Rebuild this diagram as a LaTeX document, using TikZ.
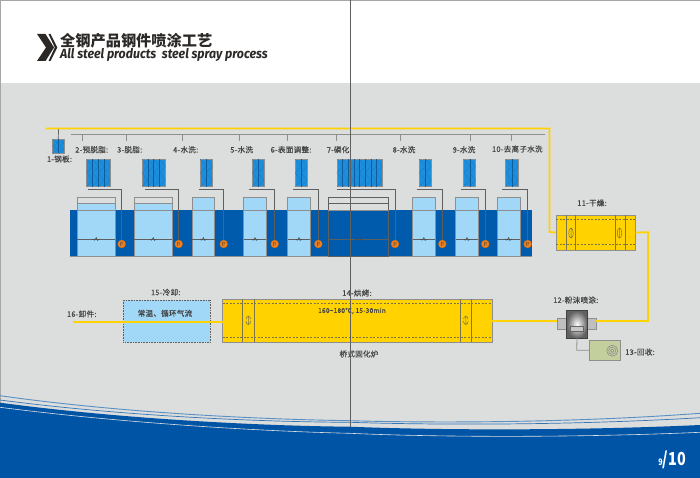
\documentclass[tikz,border=0pt]{standalone}
\usepackage{fontspec}
\setmainfont{Noto Sans CJK SC}
\newfontfamily\entitle{Fira Sans}
\newfontfamily\lblfont{Noto Sans CJK SC}[FakeBold=0.25,LetterSpace=3]
\usetikzlibrary{calc}
\definecolor{pagegray}{HTML}{DCDDDD}
\definecolor{ink}{HTML}{444444}
\definecolor{deepblue}{HTML}{0054A6}
\definecolor{bandblue}{HTML}{005BAC}
\definecolor{tankblue}{HTML}{A2D8F7}
\definecolor{sprayblue}{HTML}{1C8EDB}
\definecolor{sprayline}{HTML}{0E5C9C}
\definecolor{steelgray}{HTML}{8E8E8E}
\definecolor{darkline}{HTML}{5F5F5F}
\definecolor{ovenyellow}{HTML}{FFD200}
\definecolor{ovenline}{HTML}{7D7447}
\definecolor{pumporange}{HTML}{EE7F1A}
\definecolor{recovgreen}{HTML}{C3D09E}
\tikzset{
  lbl/.style={font=\lblfont\fontsize{7.6}{9}\selectfont, text=ink, inner sep=0pt},
  flat/.style={rectangle, inner sep=0pt, outer sep=0pt},
  yellowline/.style={draw=ovenyellow, line width=1.8pt},
  grayrail/.style={draw=steelgray, line width=1.3pt},
  railtick/.style={draw=steelgray, line width=.7pt},
  pipe/.style={draw=darkline, line width=.7pt},
  pumpdot/.style={circle, fill=pumporange, draw=pumporange!80!black, line width=.2pt, minimum size=8pt, inner sep=0pt,
     font=\fontsize{5.5}{6}\selectfont, text=ink},
  tankbox/.style={flat, draw=steelgray, line width=.9pt, fill=tankblue},
  ovenbox/.style={flat, draw=steelgray, line width=.7pt, fill=ovenyellow},
  ovendash/.style={draw=ovenline, line width=.6pt, dash pattern=on 2.2pt off 1.3pt},
  ovenbar/.style={draw=ovenline, line width=.7pt},
}
% name, x1, y1, x2, y2, style
\newcommand{\pxbox}[6]{%
  \pgfmathsetmacro{\bw}{#4-#2}\pgfmathsetmacro{\bh}{#5-#3}%
  \node[#6, minimum width=\bw pt, minimum height=\bh pt] (#1) at ({(#2+#4)/2},{(#3+#5)/2}) {};}
% name, x1, x2, y1, y2, columns
\newcommand{\spraybox}[6]{%
  \pxbox{#1}{#2}{#4}{#3}{#5}{flat, fill=sprayblue, draw=steelgray, line width=.6pt}
  \pgfmathsetmacro{\cw}{(#3-#2)/#6}%
  \foreach \k in {1,...,#6}{%
    \pgfmathsetmacro{\cx}{#2+(\k-1)*\cw}%
    \pgfmathsetmacro{\cxb}{#2+\k*\cw}%
    \draw[sprayline!70!sprayblue, line width=.45pt, densely dotted]
      (\cx,#4) -- (\cxb,{#4+(#5-#4)/4}) -- (\cx,{#4+(#5-#4)/2}) -- (\cxb,{#4+3*(#5-#4)/4}) -- (\cx,#5);
    \pgfmathparse{\k<#6 ? 1 : 0}%
    \ifdim\pgfmathresult pt>0.5pt \draw[sprayline, line width=.4pt] (\cxb,#4) -- (\cxb,#5);\fi
  }}
% squiggle
\newcommand{\squig}[2]{\draw[black!70, line width=.55pt] ({#1-3.5},#2) -- ({#1-1.8},#2+1.2) -- ({#1},#2-1.4) -- ({#1+1.2},#2+1.4) -- ({#1+3.2},#2);}
\begin{document}
\begin{tikzpicture}[x=1pt,y=-1pt]
\useasboundingbox (0,0) rectangle (700,478);
% page
\fill[white] (0,0) rectangle (700,83);
\fill[pagegray] (0,83) rectangle (700,478);
\draw[gray!70, line width=.8pt] (0,478) -- (0,0) -- (700,0);
% bottom swoosh
\fill[deepblue] (0,402.7) .. controls (130,420) and (270,426) .. (350,426.7)
   .. controls (430,430) and (570,431) .. (700,425) -- (700,478) -- (0,478) -- cycle;
\draw[pagegray!90!white, line width=.6pt] (0,407.3) .. controls (130,424) and (270,431.5) .. (350,433.3)
   .. controls (430,437) and (570,438) .. (700,432.3);
\draw[deepblue!65!white, line width=.9pt] (0,395.7) .. controls (130,414) and (270,419.5) .. (350,420.7)
   .. controls (430,423) and (570,423) .. (700,413.3);
\draw[deepblue!80!white, line width=.7pt] (0,400) .. controls (130,417) and (270,422) .. (350,422.3)
   .. controls (430,425) and (570,425.5) .. (700,417.7);
% title
\definecolor{chev}{HTML}{2B2826}
\fill[chev] (37,34) -- (45.5,34) -- (54,47.5) -- (45.5,61) -- (37,61) -- (46,47.5) -- cycle;
\fill[chev] (48.5,34) -- (50.5,34) -- (57.3,47.5) -- (50.5,61) -- (48.5,61) -- (54.8,47.5) -- cycle;
\node[anchor=west, inner sep=0pt, text=chev] (titlecn) at (60,40.5) {\fontsize{15.2}{16}\selectfont\bfseries 全钢产品钢件喷涂工艺};
\node[anchor=west, inner sep=0pt, text=chev] (titleen) at (60,55) {\scalebox{.93}[1]{\entitle\fontsize{13.3}{15}\selectfont\bfseries\itshape All steel products\ \ steel spray process}};
% tanks band
\pxbox{band}{70}{210}{532.3}{256}{flat, fill=bandblue}
\draw[steelgray, line width=.7pt] (70,256.3) -- (532.3,256.3);
% tanks
\pxbox{tankA}{77.3}{203.3}{115.3}{256.7}{tankbox}
\pxbox{tankAt}{77.3}{197.3}{115.3}{203.3}{flat, draw=steelgray, line width=.9pt}
\pxbox{tankB}{134.3}{203.3}{172.3}{256.7}{tankbox}
\pxbox{tankBt}{134.3}{197.3}{172.3}{203.3}{flat, draw=steelgray, line width=.9pt}
\pxbox{tankC}{192.3}{197.3}{214.7}{256.7}{tankbox}
\pxbox{tankD}{243.7}{197.3}{266.3}{256.7}{tankbox}
\pxbox{tankE}{287.7}{197.3}{310.3}{256.7}{tankbox}
\pxbox{tankF}{328.3}{203.3}{388.7}{256.7}{flat, draw=darkline, line width=.6pt}
\pxbox{tankFt}{328.3}{197.3}{388.7}{203.3}{flat, draw=darkline, line width=.6pt}
\pxbox{tankG}{412.7}{197.3}{435}{256.7}{tankbox}
\pxbox{tankH}{455.7}{197.3}{478.3}{256.7}{tankbox}
\pxbox{tankI}{497.3}{197.3}{520}{256.7}{tankbox}
\foreach \a/\b in {77.3/115.3,134.3/172.3,192.3/214.7,243.7/266.3,287.7/310.3,328.3/388.7,412.7/435,455.7/478.3,497.3/520}{
  \draw[steelgray, line width=.6pt] (\a,210) -- (\b,210);
  \draw[darkline, line width=.5pt] (\a,239) -- (\b,239);
  \squig{(\a+\b)/2}{239}
}
% rails
\coordinate (railL) at (70.7,134.7);
\coordinate (railR) at (545,134.7);
\draw[grayrail] (railL) -- (railR);
\foreach \n/\x in {a/82.7,b/126.7,c/182.7,d/239,e/287.7,f/336.7,g/400.7,h/470,i/511}{
  \coordinate (t\n) at (\x,134.7);
  \coordinate (u\n) at (\x,141);
  \draw[railtick] (t\n) -- (u\n);
}
% spray banks
\spraybox{spA}{86.7}{110}{159.3}{186.7}{4}
\spraybox{spB}{142}{165.3}{159.3}{186.7}{4}
\spraybox{spC}{200.3}{212.3}{159.3}{186.7}{2}
\spraybox{spD}{252}{264}{159.3}{186.7}{2}
\spraybox{spE}{295}{307}{159.3}{186.7}{2}
\spraybox{spF}{337}{382}{159.3}{186.7}{8}
\spraybox{spG}{419.3}{431.3}{159.3}{186.7}{2}
\spraybox{spH}{463.7}{475.7}{159.3}{186.7}{2}
\spraybox{spI}{505.7}{518}{159.3}{186.7}{2}
% pumps and pipes
\foreach \n/\s/\x in {A/87.7/121.7,B/145/178.7,C/198.7/223.7,D/249/274.7,E/293/318.3,F/337/395,G/416.7/442.3,H/461/485.3,I/502.3/527.7}{
  \coordinate (pipe\n) at (\s,189);
  \coordinate (drop\n) at (\x,189);
  \node[pumpdot] (pump\n) at (\x,244) {P};
  \draw[pipe] (pipe\n) -- (drop\n) -- (pump\n);
}
% steel plate and conveyor
\coordinate (convL) at (46,128.5);
\coordinate (convC) at (549.5,128.5);
\coordinate (convD) at (549.5,232);
\coordinate (hang) at (58.5,128.5);
\spraybox{plate}{52.3}{64.3}{139}{153}{2}
\draw[pipe] (hang) -- (plate.north);
% dryer
\pxbox{dryer}{556}{215}{635.5}{250}{ovenbox}
\draw[ovendash] (556,219.7) -- (635.5,219.7) (556,244.7) -- (635.5,244.7);
\draw[ovenbar] (566.3,215) -- (566.3,250) (575.7,215) -- (575.7,250) (615.7,215) -- (615.7,250) (625,215) -- (625,250);
\draw[ovenline, line width=.5pt] (571,233) ellipse (2.3 and 5) (571,228) -- (571,238) (619.5,233) ellipse (2.3 and 5) (619.5,228) -- (619.5,238);
% oven
\pxbox{oven}{222.7}{299.3}{492}{342}{ovenbox}
\draw[ovendash] (222.7,303.5) -- (492,303.5) (222.7,337.5) -- (492,337.5);
\draw[ovenbar] (242.3,299.3) -- (242.3,342) (254.3,299.3) -- (254.3,342) (460,299.3) -- (460,342) (471.7,299.3) -- (471.7,342);
\foreach \x in {248.3,465.8}{
  \draw[ovenline, line width=.55pt]
    (\x-2.2,319) .. controls (\x-2.2,315.5) and (\x+2.2,315.5) .. (\x+2.2,319)
    (\x-2.4,321) .. controls (\x-2.4,325.5) and (\x+2.4,325.5) .. (\x+2.4,321)
    (\x,315.5) -- (\x,325);
}
% cooling
\pxbox{cool}{123.3}{300}{210.3}{342}{flat, fill=tankblue, draw=darkline, line width=.6pt, densely dotted}
% spray booth
\pxbox{sideL}{557.3}{318.3}{567}{329.7}{flat, fill=black!25, draw=steelgray, line width=.5pt}
\pxbox{sideR}{587}{318.3}{596}{329.7}{flat, fill=black!25, draw=steelgray, line width=.5pt}
\pxbox{booth}{566.7}{310.7}{587.3}{338}{flat, inner color=white, outer color=black!62, draw=black!75, line width=.5pt}
\pxbox{boothin}{570.3}{326}{583}{331}{flat, fill=black!22, draw=black!60, line width=.4pt}
% recovery
\pxbox{recov}{589.3}{340}{620}{360.7}{flat, fill=recovgreen, draw=steelgray, line width=.8pt}
\draw[steelgray, line width=.6pt] (612.3,350.7) circle (5.5) (612.3,350.7) circle (3.6) (612.3,350.7) circle (1.7);
\coordinate (duct) at (576.7,350.3);
\draw[steelgray, line width=.8pt] (booth.south) -- (duct) -- (recov.west |- duct);
% yellow conveyor
\coordinate (dryR) at (648,232.3);
\coordinate (dryD) at (648,321);
\coordinate (end) at (73,322);
\draw[yellowline] (convL) -- (convC) -- (convD) -- (dryer.west);
\draw[yellowline] (dryer.east) -- (dryR) -- (dryD) -- (sideR.east |- dryD);
\draw[yellowline] (sideL.west |- dryD) -- (oven.east |- dryD);
\draw[yellowline] (oven.west |- end) -- (end);
% labels
\node[lbl] (l1) at (59.5,159) {1-钢板:};
\node[lbl] (l2) at (91.7,149.7) {2-预脱脂:};
\node[lbl] (l3) at (129.7,149.7) {3-脱脂:};
\node[lbl] (l4) at (185.7,149.7) {4-水洗:};
\node[lbl] (l5) at (241.7,149.7) {5-水洗};
\node[lbl] (l6) at (291,149.7) {6-表面调整:};
\node[lbl] (l7) at (338,149.7) {7-磷化};
\node[lbl] (l8) at (404,149.7) {8-水洗};
\node[lbl] (l9) at (464,149.7) {9-水洗};
\node[lbl] (l10) at (517.3,149) {10-去离子水洗};
\node[lbl] (l11) at (592,203) {11-干燥:};
\node[lbl] (l12) at (575.7,300) {12-粉沫喷涂:};
\node[lbl,anchor=west] (l13) at (625,352) {13-回收:};
\node[lbl] (l14) at (357,293) {14-烘烤:};
\node[lbl] (l15) at (165.7,292.3) {15-冷却:};
\node[lbl] (l16) at (81.7,314) {16-卸件:};
\node[lbl] (cooltxt) at (165,313.3) {常温、循环气流};
\node[lbl, font=\lblfont\fontsize{6.6}{8}\selectfont] (oventxt) at (352,311) {160\textasciitilde 180℃, 15-30min};
\node[lbl] (ovenname) at (359,354) {桥式固化炉};
% centre fold
\draw[darkline, line width=.8pt] (350,0) -- (350,427);
% page number
\node[inner sep=0pt, text=white, anchor=base east] (pg) at (686,465) {\scalebox{.8}[1]{\bfseries\fontsize{9}{10}\selectfont 9\fontsize{18}{18}\selectfont/10}};
\end{tikzpicture}
\end{document}
